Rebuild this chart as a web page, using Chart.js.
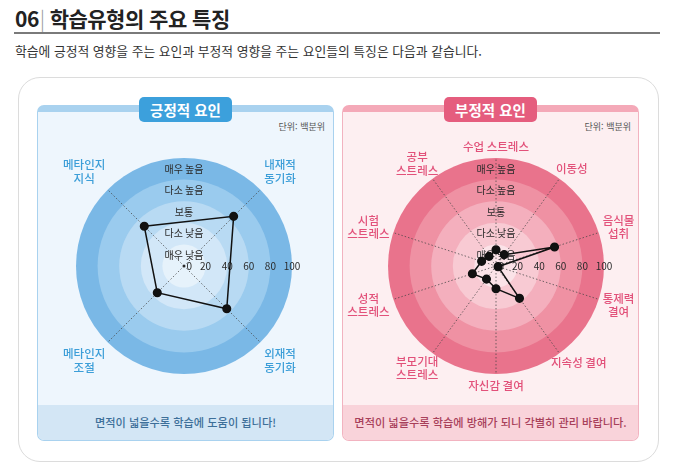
<!DOCTYPE html>
<html lang="ko">
<head>
<meta charset="utf-8">
<script src="https://cdn.jsdelivr.net/npm/chart.js@4"></script>
<style>
  body { margin: 0; background: #fff; font-family: "Noto Sans CJK KR", "Noto Sans", sans-serif; }
  #page { position: relative; width: 676px; height: 476px; overflow: hidden; }
  .title { position: absolute; left: 15px; top: 3px; font-size: 21px; font-weight: 700; color: #222; letter-spacing: -0.5px; }
  .title .bar { color: #999; font-weight: 300; margin: 0 5px 0 1px; }
  .rule { position: absolute; left: 14px; top: 32px; width: 646px; height: 2px; background: #7a7a7a; }
  .sub { position: absolute; left: 15px; top: 41px; font-size: 12.8px; color: #333; }
  .outer { position: absolute; left: 18px; top: 77px; width: 639px; height: 383px; border: 1px solid #dcdcdc; border-radius: 22px; }
  .panel { position: absolute; top: 105px; height: 336px; border-radius: 7px; overflow: hidden; box-sizing: border-box; }
  .panel.pos { left: 37px; width: 297px; background: #eef6fd; border: 1px solid #a9d2ef; border-top: 7px solid #a9d2ef; }
  .panel.neg { left: 342px; width: 297px; background: #fdeff1; border: 1px solid #f2b3c0; border-top: 7px solid #f4a9b8; }
  .foot { position: absolute; left: 0; right: 0; bottom: 0; height: 35px; line-height: 34px; text-align: center; font-size: 11.2px; font-weight: 500; }
  .pos .foot { background: #d3e6f5; color: #3d6f99; }
  .neg .foot { background: #f9d3da; color: #a8405a; }
  .pill { position: absolute; top: 97px; width: 93px; height: 25px; line-height: 25px; border-radius: 5px; text-align: center; color: #fff; font-size: 14.5px; font-weight: 700; }
  .pill.pos { left: 139px; background: #3ca0dc; }
  .pill.neg { left: 444px; background: #e55d7e; }
  .unit { position: absolute; top: 120px; font-size: 9px; color: #555; }
  canvas { position: absolute; top: 130px; }
</style>
</head>
<body>
<div id="page">
  <div class="title">06<span class="bar">|</span>학습유형의 주요 특징</div>
  <div class="rule"></div>
  <div class="sub">학습에 긍정적 영향을 주는 요인과 부정적 영향을 주는 요인들의 특징은 다음과 같습니다.</div>
  <div class="outer"></div>

  <div class="panel pos"><div class="foot">면적이 넓을수록 학습에 도움이 됩니다!</div></div>
  <div class="panel neg"><div class="foot">면적이 넓을수록 학습에 방해가 되니 각별히 관리 바랍니다.</div></div>
  <div class="pill pos">긍정적 요인</div>
  <div class="pill neg">부정적 요인</div>
  <div class="unit" style="right: 351px;">단위: 백분위</div>
  <div class="unit" style="right: 45px;">단위: 백분위</div>

  <canvas id="posChart" width="296" height="275" style="left: 37px;"></canvas>
  <canvas id="negChart" width="297" height="275" style="left: 342px;"></canvas>
</div>

<script>
// 긍정적 요인 (시작: 왼쪽 위, 시계 방향)
const posLabels = [['메타인지', '지식'], ['내재적', '동기화'], ['외재적', '동기화'], ['메타인지', '조절']];
const posValues = [52, 65, 56, 35];

// 부정적 요인 (시작: 위, 시계 방향)
const negLabels = ['수업 스트레스', '이동성', ['음식물', '섭취'], ['통제력', '결여'], '지속성 결여',
  '자신감 결여', ['부모기대', '스트레스'], ['성적', '스트레스'], ['시험', '스트레스'], ['공부', '스트레스']];
const negValues = [15, 13, 57, 2, 37, 21, 15, 23, 14, 11];

const tickValues = [0, 20, 40, 60, 80, 100];
const bandLabels = ['매우 낮음', '다소 낮음', '보통', '다소 높음', '매우 높음'];

const FONT = '"Noto Sans CJK KR", sans-serif';

// 배경 링, 눈금, 단계 글자, 바깥 라벨을 그리는 플러그인
const radarDeco = {
  id: 'radarDeco',
  beforeDraw(chart, args, opts) {
    const s = chart.scales.r;
    const ctx = chart.ctx;
    ctx.save();
    for (let i = tickValues.length - 1; i > 0; i--) {
      ctx.beginPath();
      ctx.arc(s.xCenter, s.yCenter, s.getDistanceFromCenterForValue(tickValues[i]), 0, Math.PI * 2);
      ctx.fillStyle = opts.bands[i - 1];
      ctx.fill();
    }
    ctx.restore();
  },
  beforeDatasetsDraw(chart, args, opts) {
    const s = chart.scales.r;
    const ctx = chart.ctx;
    ctx.save();
    ctx.fillStyle = '#2a2a2a';
    ctx.textBaseline = 'middle';
    // 단계 글자
    ctx.font = '10px ' + FONT;
    ctx.textAlign = 'center';
    for (let i = 0; i < bandLabels.length; i++) {
      const mid = (tickValues[i] + tickValues[i + 1]) / 2;
      ctx.fillText(bandLabels[i], s.xCenter, s.yCenter - s.getDistanceFromCenterForValue(mid));
    }
    // 눈금 (오른쪽 수평)
    ctx.font = '10px ' + FONT;
    tickValues.forEach(v => {
      const d = s.getDistanceFromCenterForValue(v);
      if (v === 0) {
        ctx.textAlign = 'left';
        ctx.fillText('0', s.xCenter + 2.5, s.yCenter + 0.5);
      } else {
        ctx.textAlign = 'center';
        ctx.fillText(String(v), s.xCenter + d, s.yCenter + 0.5);
      }
    });
    ctx.beginPath();
    ctx.arc(s.xCenter, s.yCenter, 1.5, 0, Math.PI * 2);
    ctx.fill();
    ctx.restore();
  },
  afterDraw(chart, args, opts) {
    const s = chart.scales.r;
    const ctx = chart.ctx;
    const labels = chart.data.labels;
    const lh = 13.5;
    ctx.save();
    ctx.font = '500 11.5px ' + FONT;
    ctx.fillStyle = opts.labelColor;
    ctx.textAlign = 'center';
    ctx.textBaseline = 'middle';
    labels.forEach((lab, i) => {
      const lines = Array.isArray(lab) ? lab : [lab];
      const w = Math.max(...lines.map(t => ctx.measureText(t).width));
      const h = lines.length * lh;
      const p = s.getPointPosition(i, s.drawingArea + opts.gap);
      const a = p.angle + Math.PI / 2; // 위쪽 기준 각도
      const cx = p.x + Math.sin(a) * w / 2;
      const cy = p.y - Math.cos(a) * h / 2;
      lines.forEach((t, k) => {
        ctx.fillText(t, cx, cy - h / 2 + lh / 2 + k * lh);
      });
    });
    ctx.restore();
  }
};

function makeRadar(id, labels, values, startAngle, padding, deco) {
  return new Chart(document.getElementById(id), {
    type: 'radar',
    data: {
      labels: labels,
      datasets: [{
        data: values,
        borderColor: '#111',
        borderWidth: 1.5,
        fill: false,
        pointRadius: 3.8,
        pointBackgroundColor: '#111',
        pointBorderColor: '#111'
      }]
    },
    options: {
      responsive: false,
      animation: false,
      layout: { padding: padding },
      plugins: { legend: { display: false }, tooltip: { enabled: false }, radarDeco: deco },
      scales: {
        r: {
          min: 0,
          max: 100,
          startAngle: startAngle,
          ticks: { display: false, stepSize: 20 },
          grid: { display: false },
          angleLines: { display: true, color: 'rgba(70,70,70,0.75)', lineWidth: 1, borderDash: [1.5, 2] },
          pointLabels: { display: false }
        }
      }
    },
    plugins: [radarDeco]
  });
}

makeRadar('posChart', posLabels, posValues, -45,
  { left: 39, right: 41, top: 28, bottom: 31 },
  { bands: ['#e6f2fb', '#d2e7f8', '#b8daf3', '#9acbee', '#7ab8e6'], labelColor: '#3c9ed8', gap: 12 });

makeRadar('negChart', negLabels, negValues, 0,
  { left: 46, right: 35, top: 28, bottom: 31 },
  { bands: ['#fbe3e8', '#f8cad3', '#f4afbd', '#ef91a3', '#e9738c'], labelColor: '#e2517a', gap: 5 });
</script>
</body>
</html>
